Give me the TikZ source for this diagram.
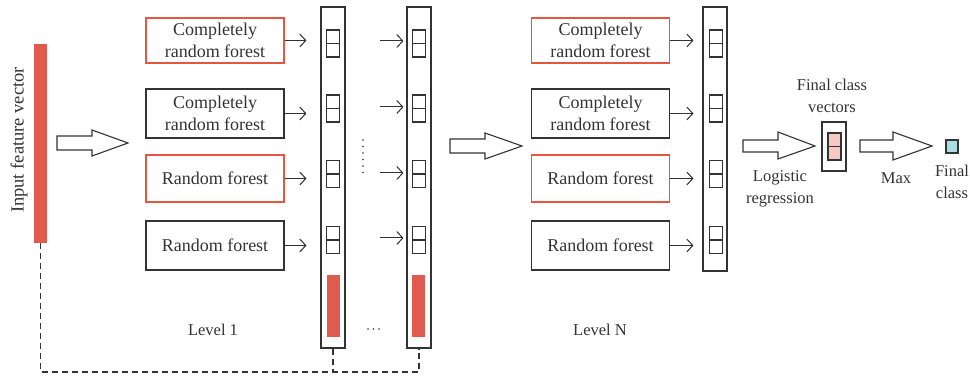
\documentclass[tikz,border=0pt]{standalone}
\usepackage{fontspec}
\setmainfont{Liberation Serif}
\usetikzlibrary{arrows.meta}
\definecolor{ink}{HTML}{333333}
\definecolor{redbar}{HTML}{E05A4E}
\definecolor{redline}{HTML}{E8553F}
\definecolor{pinkc}{HTML}{F6C9C3}
\definecolor{bluec}{HTML}{A9DCE3}
\tikzset{
  txt/.style={text=ink, font=\fontsize{16.5}{22}\selectfont, align=center, inner sep=0pt},
  forestbox/.style={txt, font=\fontsize{18}{22}\selectfont, draw=ink, line width=1.1pt, minimum width=138pt, minimum height=47pt},
  redforest/.style={forestbox, draw=redline},
  colbox/.style={draw=ink, line width=1.1pt, minimum width=24pt, inner sep=0pt},
  cellbox/.style={draw=ink, line width=1.1pt, minimum width=13pt, minimum height=27pt, inner sep=0pt,
     path picture={\draw[ink, line width=1.1pt] (path picture bounding box.west) -- (path picture bounding box.east);}},
  redbarbox/.style={fill=redbar, minimum width=13pt, inner sep=0pt},
  arr/.style={draw=ink, line width=1pt, -{Straight Barb[length=6pt,width=13pt,line width=1pt]}},
  bigarrow/.style={draw=ink, line width=1.1pt, fill=white, line join=miter},
  dashline/.style={draw=ink, line width=1.1pt, dash pattern=on 6pt off 4pt}
}
\begin{document}
\begin{tikzpicture}[x=1pt,y=-1pt]
\useasboundingbox (0,0) rectangle (970,379);

% input vector
\node[fill=redbar, minimum width=13pt, minimum height=199pt, inner sep=0pt] (inbar) at (40.5,143.5) {};
\node[txt, font=\fontsize{18.5}{22}\selectfont, rotate=90] (intext) at (19,140) {Input feature vector};

% big arrow 1
\draw[bigarrow] (57,136) -- (92,136) -- (92,130) -- (128,143) -- (92,156) -- (92,150) -- (57,150) -- cycle;

% Level 1 boxes
\node[redforest, minimum height=45pt] (a1) at (215,40.5) {Completely\\random forest};
\node[forestbox, minimum height=49pt] (a2) at (215,113.5) {Completely\\random forest};
\node[redforest] (a3) at (215,178.5) {Random forest};
\node[forestbox, minimum height=49pt] (a4) at (215,245.5) {Random forest};
\node[txt] (lev1) at (213,330) {Level 1};

% column 1
\node[colbox, minimum height=341pt] (col1) at (333,177.5) {};
\node[cellbox] (c1a) at (333,43.5) {};
\node[cellbox] (c1b) at (333,108.5) {};
\node[cellbox] (c1c) at (333,174) {};
\node[cellbox] (c1d) at (333,240) {};
\node[redbarbox, minimum height=62pt] (r1) at (333,306) {};

\foreach \b in {a1,a2,a3,a4}
  \draw[arr] (\b.east) -- ([xshift=-14pt]col1.west |- \b.east);

% column 2
\node[colbox, minimum height=341pt] (col2) at (419,177.5) {};
\node[cellbox] (c2a) at (419,43.5) {};
\node[cellbox] (c2b) at (419,108.5) {};
\node[cellbox] (c2c) at (419,174) {};
\node[cellbox] (c2d) at (419,240) {};
\node[redbarbox, minimum height=62pt] (r2) at (418.5,306) {};

\foreach \c/\yy in {c2a/41,c2b/107,c2c/173,c2d/238}
  \draw[arr] ([xshift=-26pt]col2.west |- 0,\yy) -- ([xshift=-3pt]col2.west |- 0,\yy);

% dots between columns
\foreach \yy in {140,146.5,153,159.5,166,172.5}
  \fill[ink] (363,\yy) circle (0.95pt);
\foreach \xx in {368,373.5,379}
  \fill[ink] (\xx,329) circle (0.95pt);

% dashed feedback line
\draw[dashline] (inbar.south) -- (inbar.south |- 0,372) -- (col2.south |- 0,372) -- (col2.south);
\draw[dashline] (col1.south) -- (col1.south |- 0,372);

% big arrow 2
\draw[bigarrow] (450,139) -- (485,139) -- (485,133) -- (522,146) -- (485,159) -- (485,153) -- (450,153) -- cycle;

% Level N boxes
\node[redforest, minimum height=45pt] (b1) at (600.5,40.5) {Completely\\random forest};
\node[forestbox, minimum height=49pt] (b2) at (600.5,113.5) {Completely\\random forest};
\node[redforest] (b3) at (600.5,178.5) {Random forest};
\node[forestbox, minimum height=49pt] (b4) at (600.5,245.5) {Random forest};
\node[txt] (levN) at (600,330) {Level N};

% column N
\node[colbox, minimum height=264pt] (colN) at (715,139) {};
\node[cellbox] (cNa) at (716,43.5) {};
\node[cellbox] (cNb) at (716,108.5) {};
\node[cellbox] (cNc) at (716,174) {};
\node[cellbox] (cNd) at (716,240) {};

\foreach \b in {b1,b2,b3,b4}
  \draw[arr] (\b.east) -- ([xshift=-9pt]colN.west |- \b.east);

% big arrow 3
\draw[bigarrow] (743,140) -- (778,140) -- (778,132) -- (815,146) -- (778,159) -- (778,152) -- (743,152) -- cycle;
\node[txt] (logreg) at (780,189) {Logistic\\regression};

% final class vectors
\node[colbox, minimum height=49pt] (fcv) at (834,146.5) {};
\node[cellbox, fill=pinkc, minimum height=27pt] (fcell) at (834.5,146.5) {};
\node[txt] (fcvtext) at (832,96) {Final class\\vectors};

% big arrow 4
\draw[bigarrow] (860,140) -- (893,140) -- (893,132) -- (932,146) -- (893,160) -- (893,152) -- (860,152) -- cycle;
\node[txt] (maxt) at (896,178) {Max};

% final class
\node[draw=ink, line width=1.1pt, fill=bluec, minimum width=12pt, minimum height=13pt, inner sep=0pt] (fc) at (952,146.5) {};
\node[txt] (fctext) at (952,182) {Final\\class};
\end{tikzpicture}
\end{document}
